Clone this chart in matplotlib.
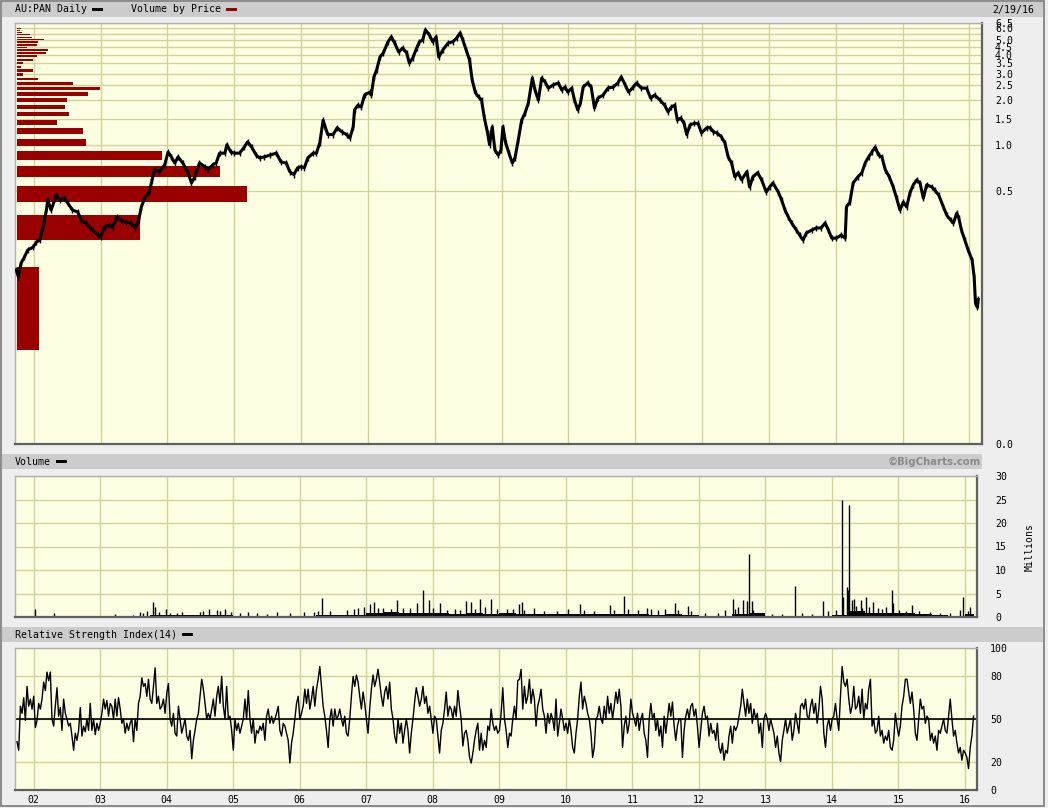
import matplotlib.pyplot as plt
import matplotlib.transforms as mtransforms
import numpy as np
import pandas as pd
from matplotlib.patches import Rectangle
from matplotlib.ticker import NullLocator

W, H = 1048, 808

# ---- price (AU:PAN daily close) ----
price_dates = [
    2001.74, 2001.77, 2001.81, 2001.86, 2001.91, 2001.99, 2002.04, 2002.09, 2002.14, 2002.19,
    2002.21, 2002.26, 2002.34, 2002.39, 2002.46, 2002.51, 2002.58, 2002.66, 2002.71, 2002.78,
    2002.88, 2002.96, 2003.00, 2003.06, 2003.13, 2003.18, 2003.25, 2003.31, 2003.38, 2003.46,
    2003.52, 2003.57, 2003.61, 2003.66, 2003.73, 2003.77, 2003.81, 2003.88, 2003.96, 2004.01,
    2004.06, 2004.11, 2004.16, 2004.23, 2004.31, 2004.36, 2004.41, 2004.48, 2004.56, 2004.61,
    2004.68, 2004.73, 2004.78, 2004.86, 2004.89, 2004.95, 2005.00, 2005.08, 2005.15, 2005.20,
    2005.26, 2005.33, 2005.38, 2005.45, 2005.53, 2005.63, 2005.70, 2005.78, 2005.83, 2005.89,
    2005.95, 2006.00, 2006.05, 2006.10, 2006.18, 2006.23, 2006.28, 2006.33, 2006.36, 2006.40,
    2006.48, 2006.54, 2006.61, 2006.68, 2006.73, 2006.78, 2006.80, 2006.85, 2006.90, 2006.95,
    2007.03, 2007.05, 2007.09, 2007.13, 2007.18, 2007.23, 2007.30, 2007.35, 2007.40, 2007.46,
    2007.52, 2007.58, 2007.62, 2007.67, 2007.73, 2007.77, 2007.82, 2007.86, 2007.92, 2007.97,
    2008.02, 2008.06, 2008.12, 2008.20, 2008.27, 2008.33, 2008.38, 2008.42, 2008.47, 2008.52,
    2008.56, 2008.61, 2008.66, 2008.70, 2008.74, 2008.79, 2008.82, 2008.86, 2008.90, 2008.95,
    2008.99, 2009.02, 2009.06, 2009.11, 2009.16, 2009.20, 2009.25, 2009.30, 2009.35, 2009.40,
    2009.46, 2009.50, 2009.55, 2009.60, 2009.65, 2009.70, 2009.77, 2009.85, 2009.90, 2009.95,
    2009.99, 2010.05, 2010.09, 2010.14, 2010.18, 2010.22, 2010.29, 2010.34, 2010.39, 2010.44,
    2010.52, 2010.59, 2010.67, 2010.74, 2010.79, 2010.85, 2010.90, 2010.97, 2011.02, 2011.09,
    2011.17, 2011.23, 2011.29, 2011.37, 2011.44, 2011.49, 2011.54, 2011.59, 2011.63, 2011.68,
    2011.73, 2011.77, 2011.82, 2011.88, 2011.94, 2011.99, 2012.07, 2012.12, 2012.17, 2012.22,
    2012.29, 2012.34, 2012.39, 2012.44, 2012.49, 2012.54, 2012.59, 2012.67, 2012.71, 2012.76,
    2012.83, 2012.89, 2012.96, 2013.01, 2013.06, 2013.14, 2013.19, 2013.24, 2013.29, 2013.34,
    2013.41, 2013.46, 2013.51, 2013.56, 2013.64, 2013.71, 2013.78, 2013.84, 2013.89, 2013.94,
    2014.01, 2014.08, 2014.14, 2014.16, 2014.21, 2014.26, 2014.33, 2014.39, 2014.44, 2014.49,
    2014.54, 2014.59, 2014.64, 2014.69, 2014.74, 2014.80, 2014.86, 2014.91, 2014.96, 2015.01,
    2015.06, 2015.11, 2015.16, 2015.21, 2015.26, 2015.31, 2015.36, 2015.44, 2015.48, 2015.54,
    2015.61, 2015.66, 2015.72, 2015.76, 2015.81, 2015.84, 2015.88, 2015.93, 2015.98, 2016.04,
    2016.07, 2016.09, 2016.12, 2016.13,
]
price_close = [
    0.149, 0.134, 0.165, 0.181, 0.202, 0.211, 0.228, 0.235, 0.287, 0.372,
    0.433, 0.372, 0.468, 0.433, 0.446, 0.414, 0.372, 0.361, 0.319, 0.305,
    0.274, 0.254, 0.246, 0.287, 0.296, 0.287, 0.334, 0.319, 0.309, 0.305,
    0.283, 0.319, 0.390, 0.446, 0.490, 0.590, 0.690, 0.669, 0.744, 0.902,
    0.838, 0.764, 0.838, 0.764, 0.659, 0.563, 0.618, 0.764, 0.722, 0.690,
    0.744, 0.764, 0.888, 0.888, 1.010, 0.902, 0.888, 0.888, 0.974, 1.057,
    0.974, 0.862, 0.825, 0.838, 0.862, 0.888, 0.776, 0.764, 0.669, 0.640,
    0.711, 0.722, 0.711, 0.825, 0.888, 0.888, 1.040, 1.470, 1.330, 1.180,
    1.180, 1.310, 1.230, 1.180, 1.120, 1.330, 1.720, 1.850, 1.800, 2.160,
    2.260, 2.160, 2.850, 3.170, 3.860, 4.110, 4.870, 5.260, 4.790, 4.170,
    4.430, 4.110, 3.520, 3.800, 4.430, 4.870, 5.020, 5.850, 5.420, 4.870,
    5.260, 3.860, 4.300, 4.790, 4.870, 5.180, 5.590, 5.020, 4.300, 3.690,
    2.720, 2.230, 2.090, 2.000, 1.540, 1.210, 1.010, 1.330, 0.930, 0.862,
    0.930, 1.330, 1.040, 0.888, 0.764, 0.825, 1.090, 1.470, 1.640, 1.910,
    2.800, 2.330, 2.000, 2.800, 2.640, 2.400, 2.520, 2.600, 2.330, 2.440,
    2.260, 2.400, 2.000, 1.720, 1.910, 2.440, 2.600, 2.440, 1.770, 2.060,
    2.160, 2.400, 2.440, 2.600, 2.850, 2.520, 2.260, 2.440, 2.600, 2.400,
    2.400, 2.060, 2.160, 2.000, 1.850, 1.670, 1.800, 1.850, 1.470, 1.520,
    1.400, 1.180, 1.370, 1.400, 1.400, 1.210, 1.310, 1.310, 1.230, 1.210,
    1.140, 1.040, 0.838, 0.764, 0.618, 0.659, 0.590, 0.669, 0.529, 0.618,
    0.659, 0.590, 0.490, 0.529, 0.563, 0.490, 0.433, 0.372, 0.334, 0.305,
    0.274, 0.254, 0.235, 0.262, 0.274, 0.283, 0.283, 0.305, 0.274, 0.242,
    0.242, 0.254, 0.242, 0.390, 0.420, 0.563, 0.618, 0.659, 0.764, 0.838,
    0.902, 0.974, 0.862, 0.838, 0.690, 0.618, 0.529, 0.446, 0.372, 0.420,
    0.390, 0.485, 0.547, 0.590, 0.563, 0.446, 0.547, 0.529, 0.505, 0.468,
    0.390, 0.344, 0.319, 0.305, 0.355, 0.329, 0.274, 0.235, 0.202, 0.173,
    0.134, 0.090, 0.084, 0.095,
]

# ---- volume by price (bin centre price, relative volume) ----
vbp_price = [0.10, 0.29, 0.48, 0.67, 0.86, 1.05, 1.24, 1.43, 1.62, 1.81, 2.00,
             2.19, 2.38, 2.57, 2.76, 2.95, 3.14, 3.33, 3.52, 3.71, 3.90, 4.09,
             4.28, 4.47, 4.66, 4.85, 5.04, 5.23, 5.43, 5.62, 5.81, 6.00]
vbp_volume = [22, 123, 230, 203, 145, 69, 66, 40, 52, 48, 50,
              71, 83, 56, 21, 6, 16, 4, 6, 16, 20, 29,
              31, 10, 20, 21, 27, 15, 13, 5, 3, 4]

# ---- daily volume, millions ----
vol_quarters = pd.period_range("2001Q4", "2016Q1", freq="Q")
vol_typical = [0.05,
               0.05, 0.05, 0.05, 0.05,
               0.05, 0.05, 0.15, 0.35,
               0.5, 0.4, 0.35, 0.4,
               0.3, 0.3, 0.3, 0.25,
               0.3, 0.5, 0.4, 0.5,
               0.8, 1.0, 0.8, 0.8,
               0.9, 0.6, 0.8, 0.7,
               0.8, 0.7, 0.7, 0.6,
               0.7, 0.6, 0.6, 0.7,
               0.6, 0.5, 0.6, 0.5,
               0.3, 0.3, 0.6, 0.9,
               0.3, 0.3, 0.25, 0.3,
               0.4, 1.2, 0.8, 0.9,
               0.8, 0.6, 0.4, 0.3,
               0.6]
vol_dates = [
    2002.02, 2002.30, 2003.23, 2003.79, 2003.83, 2003.99, 2004.63, 2004.76, 2004.87, 2006.34,
    2007.05, 2007.11, 2007.47, 2007.76, 2007.86, 2007.95, 2008.11, 2008.50, 2008.57, 2008.71,
    2008.87, 2009.29, 2009.34, 2010.21, 2010.66, 2010.87, 2011.22, 2011.64, 2011.84, 2012.51,
    2012.67, 2012.72, 2012.75, 2012.80, 2013.44, 2013.87, 2014.15, 2014.17, 2014.23, 2014.24,
    2014.26, 2014.30, 2014.34, 2014.44, 2014.52, 2014.62, 2014.90, 2014.92, 2015.21, 2015.97,
    2016.08,
    2003.50, 2003.60, 2003.65, 2003.70, 2003.88, 2004.05, 2004.15, 2004.23, 2004.50, 2004.55,
    2004.80, 2004.96, 2005.11, 2005.23, 2005.36, 2005.51, 2005.66, 2005.86, 2006.06, 2006.21,
    2006.28, 2006.46, 2006.71, 2006.81, 2006.88, 2006.96, 2007.18, 2007.26, 2007.38, 2007.56,
    2007.66, 2008.01, 2008.21, 2008.34, 2008.41, 2008.64, 2008.79, 2008.96, 2009.11, 2009.21,
    2009.37, 2009.52, 2009.67, 2009.87, 2010.03, 2010.28, 2010.43, 2010.73, 2010.93, 2011.08,
    2011.28, 2011.39, 2011.49, 2011.69, 2011.89, 2012.09, 2012.29, 2012.39, 2012.54, 2012.59,
    2012.82, 2012.95, 2013.10, 2013.25, 2013.55, 2013.70, 2013.95, 2014.06, 2014.36, 2014.46,
    2014.56, 2014.69, 2014.76, 2014.81, 2015.01, 2015.11, 2015.31, 2015.47, 2015.62, 2015.77,
    2015.92, 2016.05,
]
vol_values = [
    1.6, 0.9, 0.7, 3.2, 2.2, 1.8, 1.6, 1.4, 1.6, 4.1,
    2.7, 3.1, 3.6, 2.9, 5.8, 3.6, 2.9, 3.4, 3.2, 3.8,
    3.8, 2.7, 3.2, 2.7, 2.6, 4.5, 2.0, 2.9, 2.4, 3.8,
    3.6, 3.4, 13.4, 3.3, 6.6, 3.4, 25.0, 4.3, 6.3, 5.7,
    23.8, 3.6, 3.8, 3.6, 4.3, 3.1, 5.7, 2.9, 2.5, 4.3,
    2.1,
    0.5, 1.0, 0.8, 1.3, 1.0, 0.8, 0.9, 1.1, 1.0, 1.2,
    1.3, 1.0, 0.9, 1.1, 0.8, 0.7, 1.0, 0.8, 1.0, 1.0,
    1.3, 1.3, 1.4, 1.8, 1.9, 2.2, 2.0, 1.9, 1.8, 1.9,
    2.0, 1.9, 1.5, 1.8, 1.4, 1.8, 2.2, 1.8, 1.6, 1.7,
    1.5, 1.9, 1.3, 1.2, 1.6, 1.5, 1.2, 1.4, 1.6, 1.5,
    1.7, 1.4, 1.8, 1.5, 1.2, 0.8, 0.9, 1.5, 1.8, 2.2,
    1.5, 0.7, 0.6, 0.7, 0.8, 0.7, 1.2, 1.4, 2.3, 2.0,
    2.2, 2.0, 1.7, 2.2, 1.5, 1.3, 1.2, 1.0, 0.8, 0.9,
    1.5, 1.2,
]

# ---- RSI(14), sampled evenly from Oct 2001 to 19 Feb 2016 ----
rsi_start, rsi_end = 2001.751, 2016.131
rsi_values = [
    34, 28, 59, 54, 65, 49, 73, 59, 64, 57,
    66, 44, 49, 61, 57, 64, 76, 70, 83, 77, 83, 50, 45, 59, 72, 52, 58, 42, 64, 54,
    50, 45, 47, 38, 28, 40, 35, 42, 58, 38, 45, 41, 50, 42, 61, 42, 50, 39, 47, 42,
    47, 54, 64, 57, 63, 52, 61, 59, 50, 64, 52, 65, 57, 47, 50, 40, 47, 42, 47, 50,
    34, 50, 42, 61, 66, 79, 73, 75, 66, 78, 64, 61, 73, 86, 61, 66, 57, 59, 64, 54,
    68, 75, 50, 45, 54, 40, 38, 59, 50, 40, 45, 50, 38, 35, 42, 22, 35, 42, 50, 54,
    66, 78, 71, 61, 50, 54, 50, 57, 64, 52, 66, 73, 61, 80, 59, 50, 73, 50, 52, 42,
    28, 50, 42, 47, 40, 45, 50, 64, 50, 70, 50, 40, 50, 33, 42, 40, 45, 42, 47, 35,
    52, 57, 47, 52, 47, 50, 54, 59, 42, 38, 47, 45, 40, 35, 19, 33, 40, 50, 61, 66,
    50, 54, 59, 71, 61, 71, 57, 64, 73, 59, 71, 78, 87, 73, 59, 52, 42, 30, 50, 57,
    45, 57, 50, 52, 57, 50, 45, 52, 40, 38, 50, 66, 80, 73, 81, 76, 66, 57, 69, 61,
    50, 40, 57, 71, 81, 73, 78, 85, 76, 66, 59, 69, 73, 64, 76, 57, 50, 38, 33, 50,
    40, 47, 33, 42, 50, 42, 26, 40, 50, 62, 72, 66, 59, 64, 73, 61, 66, 54, 59, 50,
    40, 52, 50, 38, 26, 42, 47, 57, 69, 52, 59, 57, 50, 59, 52, 70, 59, 50, 31, 40,
    42, 35, 23, 19, 26, 35, 42, 47, 28, 40, 28, 35, 30, 45, 42, 57, 47, 42, 45, 40,
    42, 54, 72, 50, 42, 30, 40, 38, 50, 59, 50, 77,
    78, 85, 57, 73, 61, 66, 78, 61, 71, 64, 45, 59, 64, 71, 57, 52, 40, 54, 47, 54,
    50, 42, 64, 38, 47, 57, 50, 42, 47, 40, 50, 42, 30, 26, 40, 50, 66, 76, 57, 66,
    61, 54, 50, 40, 23, 30, 50, 52, 59, 50, 47, 59, 50, 66, 54, 61, 50, 59, 69, 61,
    71, 59, 30, 45, 52, 40, 47, 64, 54, 50, 45, 54, 42, 50, 54, 40, 35, 23, 50, 61,
    50, 54, 42, 50, 38, 45, 30, 52, 40, 50, 61, 52, 62, 45, 35, 45, 50, 50, 23, 42,
    52, 57, 50, 59, 61, 52, 57, 45, 30, 42, 54, 59, 50, 52, 38, 47, 40, 42, 35, 47,
    30, 26, 33, 21, 28, 26, 38, 45, 33, 45, 42, 45, 52, 59, 71, 61, 52, 64, 54, 61,
    47, 57, 50, 54, 40, 47, 30, 50, 54, 50, 42, 50, 45, 40, 30, 38, 26, 20, 35, 42,
    50, 40, 45, 50, 35, 42, 54, 47, 40, 59, 61, 57, 64, 52, 50, 59, 64, 54, 61, 47,
    57, 73, 64, 40, 30, 45, 50, 42, 50, 52, 61, 50, 42, 66, 87, 76, 73, 78, 64, 54,
    59, 73, 57, 59, 66, 54, 71, 50, 61, 57, 71, 78, 45, 50, 40, 42, 52, 38, 42, 33,
    38, 35, 42, 30, 28, 35, 54, 45, 38, 45, 59, 66, 78, 78, 69, 61, 69, 57, 40, 35,
    50, 64, 57, 59, 47, 52, 50, 35, 40, 33, 38, 28, 42, 40, 45, 50, 42, 40, 52, 64,
    50, 38, 42, 33, 26, 30, 21, 28, 26, 23, 15, 30, 38, 52,
]

year_ticks = list(range(2002, 2017))
year_labels = [f"{y % 100:02d}" for y in year_ticks]
price_levels = [0.5, 1.0, 1.5, 2.0, 2.5, 3.0, 3.5, 4.0, 4.5, 5.0, 5.5, 6.0, 6.5]

# ---- styling ----
BG = "#eeeeee"
BAR = "#cccccc"
FACE = "#fefee2"
GRID = "#d2d29e"
VBP = "#990000"
MONO = "DejaVu Sans Mono"
FS = 7.1
XLIM = (2001.72, 2016.183)

plt.rcParams["font.family"] = MONO
plt.rcParams["font.size"] = FS

fig = plt.figure(figsize=(W / 100, H / 100), dpi=100, facecolor=BG)


def px_axes(x0, y0, x1, y1):
    return fig.add_axes([x0 / W, 1 - y1 / H, (x1 - x0) / W, (y1 - y0) / H])


def px_rect(x0, y0, x1, y1, **kw):
    fig.patches.append(Rectangle((x0 / W, 1 - y1 / H), (x1 - x0) / W, (y1 - y0) / H,
                                 transform=fig.transFigure, figure=fig, **kw))


def style_panel(ax, pad):
    ax.set_facecolor(FACE)
    ax.set_xlim(*XLIM)
    ax.set_xticks(year_ticks)
    ax.grid(True, color=GRID, linewidth=1.0)
    ax.set_axisbelow(True)
    ax.yaxis.tick_right()
    ax.tick_params(length=0, pad=pad, labelsize=FS)
    ax.tick_params(axis="x", labelbottom=False)
    for s in ["left", "top"]:
        ax.spines[s].set_color("#b0b0b0")
        ax.spines[s].set_linewidth(1.0)
    for s in ["right", "bottom"]:
        ax.spines[s].set_color("#606060")
        ax.spines[s].set_linewidth(1.6)


# outer frame and header bars
px_rect(1, 1, 1044, 806, facecolor="none", edgecolor="#7a7a7a", linewidth=1.2)
px_rect(2, 2, 1043, 17, facecolor=BAR, edgecolor="none")
px_rect(2, 454, 982, 469, facecolor=BAR, edgecolor="none")
px_rect(2, 627, 1043, 642, facecolor=BAR, edgecolor="none")

fig.text(15 / W, 1 - 9.5 / H, "AU:PAN Daily", fontsize=FS, va="center")
px_rect(92, 8, 103, 11, facecolor="black")
fig.text(131 / W, 1 - 9.5 / H, "Volume by Price", fontsize=FS, va="center")
px_rect(226, 8, 237, 11, facecolor=VBP)
fig.text(1034 / W, 1 - 9.5 / H, "2/19/16", fontsize=FS, va="center", ha="right")

fig.text(15 / W, 1 - 462 / H, "Volume", fontsize=FS, va="center")
px_rect(56, 460, 67, 463, facecolor="black")
fig.text(981 / W, 1 - 461.5 / H, "\u00a9BigCharts.com", fontsize=7.3, va="center",
         ha="right", color="#8a8a8a", family="DejaVu Sans", weight="bold")

fig.text(15 / W, 1 - 635 / H, "Relative Strength Index(14)", fontsize=FS, va="center")
px_rect(182, 633, 193, 636, facecolor="black")

# ---- price panel ----
ax_p = px_axes(15, 23, 981.7, 444)
ax_p.set_yscale("log")
p_bottom = 0.0104
ax_p.set_ylim(p_bottom, 6.5)
style_panel(ax_p, pad=9.5)
ax_p.yaxis.set_minor_locator(NullLocator())
ax_p.set_yticks([p_bottom] + price_levels)
ax_p.set_yticklabels(["0.0"] + ["" if v == 5.5 else f"{v:.1f}" for v in price_levels])

# volume-by-price bars: price range in data units, length as a fraction of the panel width
vbp_half = 0.056
vbp_scale = 0.238 / max(vbp_volume)
vbp_trans = mtransforms.blended_transform_factory(ax_p.transAxes, ax_p.transData)
for p, v in zip(vbp_price, vbp_volume):
    lo = max(p - vbp_half, p_bottom)
    ax_p.add_patch(Rectangle((0.002, lo), v * vbp_scale, p + vbp_half - lo,
                             transform=vbp_trans, facecolor=VBP, edgecolor="none",
                             zorder=2))

ax_p.plot(price_dates, price_close, color="black", linewidth=2.2, zorder=3)
ax_p.plot(price_dates, price_close, color="black", linestyle="none", marker="|",
          markersize=5, markeredgewidth=1.0, zorder=3)

# ---- volume panel ----
ax_v = px_axes(15, 476, 977, 617)
style_panel(ax_v, pad=13)
ax_v.set_ylim(0, 30)
ax_v.set_yticks(range(0, 31, 5))
q_dates = [q.year + (q.quarter - 1) / 4 for q in vol_quarters] + [2016.14]
ax_v.fill_between(q_dates, 0, vol_typical + [vol_typical[-1]], step="post",
                  color="black", linewidth=0, zorder=2)
ax_v.vlines(vol_dates, 0, vol_values, color="black", linewidth=1.0, zorder=2)
fig.text(1030 / W, 1 - 547 / H, "Millions", rotation=90, fontsize=FS,
         va="center", ha="center")

# ---- RSI panel ----
ax_r = px_axes(15, 648, 977, 790)
style_panel(ax_r, pad=9.5)
ax_r.set_ylim(0, 100)
ax_r.set_yticks([0, 20, 50, 80, 100])
ax_r.tick_params(axis="x", labelbottom=True, pad=3.5)
ax_r.set_xticklabels(year_labels)
ax_r.axhline(50, color="black", linewidth=1.2, zorder=2)
rsi_dates = np.linspace(rsi_start, rsi_end, len(rsi_values))
ax_r.plot(rsi_dates, rsi_values, color="black", linewidth=1.0, zorder=3)

fig.savefig("out.png", dpi=100, facecolor=BG)
